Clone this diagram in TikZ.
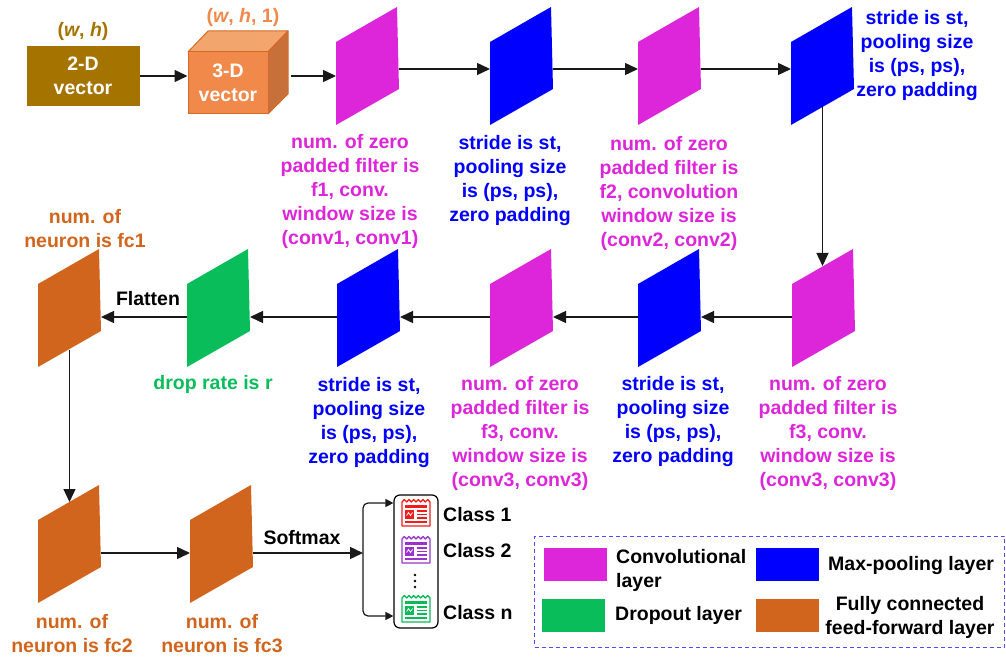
\documentclass[tikz,border=0pt]{standalone}
\usepackage{fontspec}
\setmainfont{Liberation Sans}
\usetikzlibrary{arrows.meta}

\definecolor{cmag}{HTML}{DD25D9}
\definecolor{cblue}{HTML}{0000FF}
\definecolor{cgreen}{HTML}{08BD5A}
\definecolor{corange}{HTML}{D2651D}
\definecolor{cgold}{HTML}{A57300}
\definecolor{ccube}{HTML}{F0894A}
\definecolor{ccubetop}{HTML}{F3A56E}
\definecolor{ccubeside}{HTML}{C8703A}
\definecolor{ccubeline}{HTML}{D46A26}
\definecolor{clegend}{HTML}{4D4DFF}
\definecolor{cred}{HTML}{F21B1B}
\definecolor{cpurple}{HTML}{9933CC}
\definecolor{cgreenicon}{HTML}{0AB957}

\tikzset{
 lbl/.style={font=\fontsize{19.5}{24}\selectfont\bfseries, align=center, inner sep=0pt},
 lbox/.style={minimum width=63pt, minimum height=118pt, inner sep=0pt, outer sep=0pt},
 arr/.style={line width=1.4pt, draw=black!90, -{Triangle[length=13pt,width=12pt]}},
 arrs/.style={line width=1.2pt, draw=black!90, -{Triangle[length=8pt,width=8pt]}},
 swatch/.style={minimum width=63pt, minimum height=33pt, inner sep=0pt},
}

\newcommand\mklayer[4]{%
 \fill[#4] (#2,#3+35) -- (#2+61,#3) -- (#2+63,#3+82) -- (#2,#3+118) -- cycle;
 \node[lbox] (#1) at (#2+31.5,#3+59) {};}

\newcommand\mkreceipt[3]{%
 \begin{scope}[shift={(#1,#2)}, line width=1.3pt]
 \draw[#3, line join=round] (0,3) -- (0,27) -- (28,27) -- (28,3) -- (25.7,0.5) -- (23.3,3) -- (21,0.5) -- (18.7,3) -- (16.3,0.5) -- (14,3) -- (11.7,0.5) -- (9.3,3) -- (7,0.5) -- (4.7,3) -- (2.3,0.5) -- cycle;
 \draw[#3, line width=2.4pt] (3,7.5) -- (25,7.5);
 \fill[#3] (3,11) rectangle (12,19.5);
 \draw[white, line width=0.7pt] (4.5,16.5) -- (6.5,13.5) -- (8.5,16.5) -- (10.5,13.5);
 \draw[#3] (15,12) -- (25,12) (15,15.5) -- (25,15.5) (15,19) -- (25,19) (3,23) -- (25,23);
 \end{scope}}

\begin{document}
\begin{tikzpicture}[x=1pt,y=-1pt]
\useasboundingbox (0,0) rectangle (1006,660);

% ---- input vectors
\node[lbl, fill=cgold, text=white, minimum width=113pt, minimum height=60pt] (v2) at (83,76) {2-D\\vector};
\node[lbl, text=cgold] (tv2) at (83,31) {(\textit{w}, \textit{h})};
\filldraw[fill=ccubetop, draw=ccubeline, line width=1pt, line join=round] (188,52) -- (208,31) -- (288,31) -- (268,52) -- cycle;
\filldraw[fill=ccubeside, draw=ccubeline, line width=1pt, line join=round] (268,52) -- (288,31) -- (288,94) -- (268,114) -- cycle;
\node[lbl, fill=ccube, draw=ccubeline, line width=1pt, text=white, minimum width=80pt, minimum height=62pt] (v3) at (228,83) {3-D\\vector};
\node[lbl, text=ccube] (tv3) at (243,17) {(\textit{w}, \textit{h}, 1)};

% ---- row 1
\mklayer{pa}{336}{7}{cmag}
\mklayer{pb}{490}{7}{cblue}
\mklayer{pc}{638}{7}{cmag}
\mklayer{pd}{791}{7}{cblue}
% ---- row 2
\mklayer{qa}{38}{249}{corange}
\mklayer{qb}{187}{249}{cgreen}
\mklayer{qc}{337}{249}{cblue}
\mklayer{qd}{490}{249}{cmag}
\mklayer{qe}{638}{249}{cblue}
\mklayer{qf}{792}{249}{cmag}
% ---- row 3
\mklayer{ra}{38}{485}{corange}
\mklayer{rb}{190}{485}{corange}

% ---- labels
\node[lbl, text=cmag] (tpa) at (350,191) {num. of zero\\padded filter is\\f1, conv.\\window size is\\(conv1, conv1)};
\node[lbl, text=cblue] (tpb) at (510,181) {stride is st,\\pooling size\\is (ps, ps),\\zero padding};
\node[lbl, text=cmag] (tpc) at (669,193) {num. of zero\\padded filter is\\f2, convolution\\window size is\\(conv2, conv2)};
\node[lbl, text=cblue] (tpd) at (917,56) {stride is st,\\pooling size\\is (ps, ps),\\zero padding};
\node[lbl, text=corange] (tqa) at (85,229) {num. of\\neuron is fc1};
\node[lbl] (tfl) at (148,299) {Flatten};
\node[lbl, text=cgreen] (tqb) at (213,384) {drop rate is r};
\node[lbl, text=cblue] (tqc) at (369,422) {stride is st,\\pooling size\\is (ps, ps),\\zero padding};
\node[lbl, text=cmag] (tqd) at (520,433) {num. of zero\\padded filter is\\f3, conv.\\window size is\\(conv3, conv3)};
\node[lbl, text=cblue] (tqe) at (673,421) {stride is st,\\pooling size\\is (ps, ps),\\zero padding};
\node[lbl, text=cmag] (tqf) at (828,433) {num. of zero\\padded filter is\\f3, conv.\\window size is\\(conv3, conv3)};
\node[lbl, text=corange] (tra) at (72,634) {num. of\\neuron is fc2};
\node[lbl, text=corange] (trb) at (222,634) {num. of\\neuron is fc3};
\node[lbl] (tsm) at (302,538) {Softmax};

% ---- connectors row 1
\draw[arr] (v2.east) -- (v2.east -| v3.west);
\draw[arr] ([xshift=22pt]v3.east |- v2.east) -- (v2.east -| pa.west);
\draw[arr] ([yshift=-3pt]pa.east) -- ([yshift=-3pt]pb.west);
\draw[arr] ([yshift=-3pt]pb.east) -- ([yshift=-3pt]pc.west);
\draw[arr] ([yshift=-3pt]pc.east) -- ([yshift=-3pt]pd.west);
\draw[arr] ([yshift=19pt]pd.south) -- ([yshift=-17pt]qf.north -| pd.south);
% ---- row 2
\draw[arr] ([yshift=-9pt]qf.west) -- ([yshift=-9pt]qe.east);
\draw[arr] ([yshift=-9pt]qe.west) -- ([yshift=-9pt]qd.east);
\draw[arr] ([yshift=-9pt]qd.west) -- ([yshift=-9pt]qc.east);
\draw[arr] ([yshift=-9pt]qc.west) -- ([yshift=-9pt]qb.east);
\draw[arr] ([yshift=-9pt]qb.west) -- ([yshift=-9pt]qa.east);
\draw[arr] ([yshift=17pt]qa.south) -- ([yshift=-17pt]ra.north);
% ---- row 3
\draw[arr] ([yshift=-9pt]ra.east) -- ([yshift=-9pt]rb.west);

% ---- classes
\node[draw, rounded corners=6pt, line width=1.2pt, minimum width=44pt, minimum height=133pt, inner sep=0pt] (cls) at (416,561.5) {};
\coordinate (br) at (363,553);
\draw[arr] ([yshift=-9pt]rb.east) -- (br);
\draw[arrs, rounded corners=5pt] (br) |- ([yshift=58.5pt]cls.west);
\draw[arrs, rounded corners=5pt] (br) |- ([yshift=-54.5pt]cls.west);
\mkreceipt{402}{499}{cred}
\mkreceipt{402}{536}{cpurple}
\mkreceipt{402}{595}{cgreenicon}
\fill (415,575) circle (1.4pt) (415,581) circle (1.4pt) (415,587) circle (1.4pt);
\node[lbl, anchor=west] (c1) at (443,515) {Class 1};
\node[lbl, anchor=west] (c2) at (443,551) {Class 2};
\node[lbl, anchor=west] (cn) at (443,613) {Class n};

% ---- legend
\node[draw=clegend, dash pattern=on 4pt off 3pt, line width=1pt, minimum width=470pt, minimum height=111pt, inner sep=0pt] (leg) at (769.5,591.5) {};
\node[swatch, fill=cmag] (s1) at (575.5,564.5) {};
\node[swatch, fill=cblue] (s2) at (787.5,564) {};
\node[swatch, fill=cgreen] (s3) at (573.5,615) {};
\node[swatch, fill=corange] (s4) at (787,615) {};
\node[lbl, align=left, anchor=west] (l1) at (616,570.5) {Convolutional\\layer};
\node[lbl, anchor=west] (l2) at (828,565) {Max-pooling layer};
\node[lbl, anchor=west] (l3) at (615,615) {Dropout layer};
\node[lbl] (l4) at (910,617.5) {Fully connected\\feed-forward layer};
\end{tikzpicture}
\end{document}
